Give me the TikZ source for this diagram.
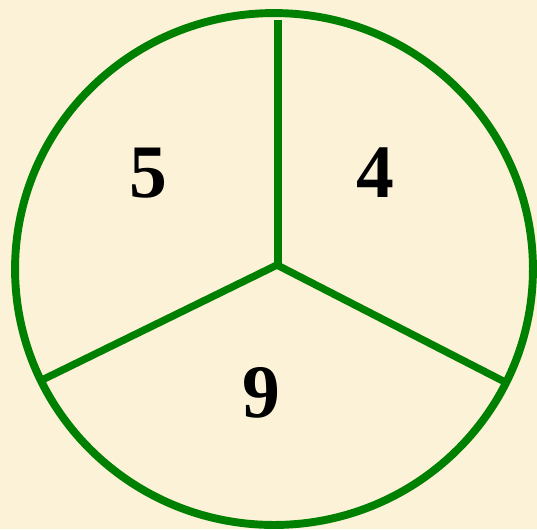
\documentclass[tikz,border=0pt]{standalone}
\usepackage{fontspec}
\setmainfont{Liberation Serif}
\usepackage{tikz}
\usetikzlibrary{positioning,calc}
\definecolor{parch}{RGB}{252,242,216}
\definecolor{rimgreen}{RGB}{0,128,0}

\begin{document}
\begin{tikzpicture}[x=0.02cm, y=-0.02cm,
      rim/.style={draw=rimgreen, line width=4.5pt},
      spoke/.style={draw=rimgreen, line width=4.2pt},
      num/.style={font=\fontsize{43}{48}\selectfont\bfseries, text=black}]
      \fill[parch] (0,0) rectangle (537,529);
      \useasboundingbox (0,0) rectangle (537,529);
      \coordinate (c) at (277,265);
      \draw[rim] (274,269) ellipse [x radius=5.18cm, y radius=5.12cm];
      \coordinate (top) at (278,20);
      \coordinate (ll) at (42,380);
      \coordinate (lr) at (505,382);
      \draw[spoke] (top) -- (278,265) -- (c);
      \draw[spoke] (c) -- (ll);
      \draw[spoke] (c) -- (lr);
      \node[num] (five) at (148,173) {5};
      \node[num] (four) at (375,173) {4};
      \node[num] (nine) at (261,393) {9};
    \end{tikzpicture}
\end{document}
